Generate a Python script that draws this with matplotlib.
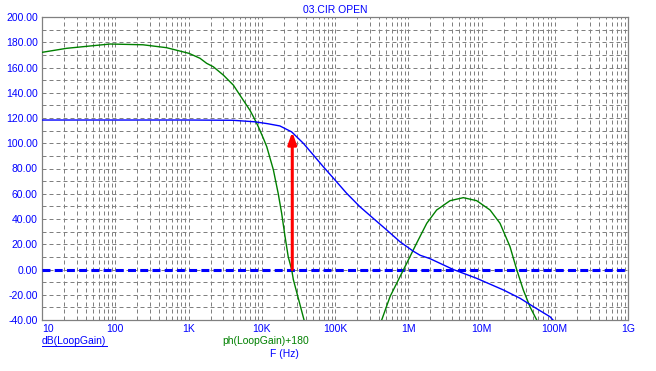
import matplotlib
matplotlib.use("Agg")
import matplotlib.pyplot as plt
import numpy as np

# ------------ DATA ------------
# dB(LoopGain)
gain_freq = [10, 100, 1000, 4000, 8000, 12000, 17700, 25600, 36900, 50600,
             69200, 100e3, 144e3, 219e3, 333e3, 508e3, 771e3, 1.17e6, 1.45e6,
             1.98e6, 4.12e6, 8.6e6, 19.9e6, 33.6e6, 51e6, 86e6, 94.6e6, 120e6]
gain_db = [118.4, 118.4, 118.4, 118.2, 117, 115.5, 113.7, 109, 100, 90.7,
           81.4, 70.9, 60.4, 49.7, 40.5, 31.3, 22, 14.5, 11.3,
           8.6, 0, -7, -16.2, -22.8, -29.4, -37.4, -40, -46]

# ph(LoopGain)+180
phase_freq = [10, 21.7, 36.6, 85, 239, 501, 1016, 1436, 1770, 2180, 2990, 4100,
              5050, 6230, 6920, 7690, 8530, 9000, 10500, 11700, 14400, 16800,
              18700, 20800, 23000, 25600, 27000, 37800, 50000, 350e3, 434e3,
              564e3, 771e3, 952e3, 1.30e6, 1.79e6, 2.44e6, 3.72e6, 5.65e6,
              8.6e6, 13.1e6, 17.9e6, 24.5e6, 30.2e6, 37.2e6, 45.9e6, 56.7e6, 70e6]
phase_deg = [172, 175.2, 176.5, 178.6, 178, 175.7, 171.2, 167.3, 163.3, 160.6, 154, 146,
             138, 130, 126, 121, 115.8, 113, 104, 97.3, 79, 60,
             44.5, 26, 10, 0, -8, -40, -80, -60, -40,
             -21.5, -5.7, 4.9, 20.8, 36.6, 47.1, 54.5, 56.9,
             54.5, 47.1, 36.6, 18.1, 0, -16.2, -29.5, -40, -60]

# crossover marker (red arrow)
cross_freq = 26100
cross_top = 109

x_ticks = [10, 100, 1e3, 1e4, 1e5, 1e6, 1e7, 1e8, 1e9]
x_labels = ["10", "100", "1K", "10K", "100K", "1M", "10M", "100M", "1G"]
y_ticks = [-40, -20, 0, 20, 40, 60, 80, 100, 120, 140, 160, 180, 200]

BLUE = "#0000ff"
GREEN = "#008000"
GRID = "#808080"
FS = 7.5

plt.rcParams["font.family"] = ["Liberation Sans", "DejaVu Sans"]

fig = plt.figure(figsize=(6.56, 3.71), dpi=100)
ax = fig.add_axes([42 / 656, 1 - 320 / 371, 586 / 656, 303 / 371])

ax.set_xscale("log")
ax.set_xlim(10, 1e9)
ax.set_ylim(-40, 200)

# grid: every decade subdivision and every 10 units
ax.set_xticks(x_ticks)
ax.set_xticklabels(x_labels)
ax.set_xticks([m * d for d in x_ticks[:-1] for m in range(2, 10)], minor=True)
ax.set_yticks(y_ticks)
ax.set_yticklabels([f"{v:.2f}" for v in y_ticks])
ax.set_yticks(np.arange(-30, 200, 20), minor=True)
ax.grid(True, which="both", color=GRID, linestyle=(0, (4, 3)), linewidth=0.72)
ax.tick_params(which="both", length=0)
ax.tick_params(axis="both", labelsize=FS, labelcolor=BLUE)
ax.tick_params(axis="x", pad=3)
ax.tick_params(axis="y", pad=3)
ax.get_xticklabels()[0].set_horizontalalignment("left")

for s in ax.spines.values():
    s.set_color(GRID)
    s.set_linewidth(0.9)

ax.axhline(0, color=BLUE, linestyle=(0, (2.6, 1.4)), linewidth=2.2, zorder=3)
ax.plot(phase_freq, phase_deg, color=GREEN, linewidth=1.0, zorder=4)
ax.plot(gain_freq, gain_db, color=BLUE, linewidth=1.0, zorder=4)

ax.annotate("", xy=(cross_freq, cross_top), xytext=(cross_freq, 0),
            arrowprops=dict(arrowstyle="-|>,head_length=0.7,head_width=0.25",
                            color="red", linewidth=2.2, shrinkA=0, shrinkB=0),
            zorder=5)

fig.text(335 / 656, 1 - 10 / 371, "03.CIR OPEN", color=BLUE, fontsize=FS,
         ha="center", va="center")
fig.text(42 / 656, 1 - 341 / 371, "dB(LoopGain)", color=BLUE, fontsize=FS,
         ha="left", va="center")
ax.plot([42 / 656, 107 / 656], [1 - 346 / 371] * 2, color=BLUE, linewidth=0.7,
        transform=fig.transFigure, clip_on=False)
fig.text(266 / 656, 1 - 341 / 371, "ph(LoopGain)+180", color=GREEN, fontsize=FS,
         ha="center", va="center")
fig.text(284 / 656, 1 - 354 / 371, "F (Hz)", color=BLUE, fontsize=FS,
         ha="center", va="center")

fig.savefig("out.png", dpi=100)
